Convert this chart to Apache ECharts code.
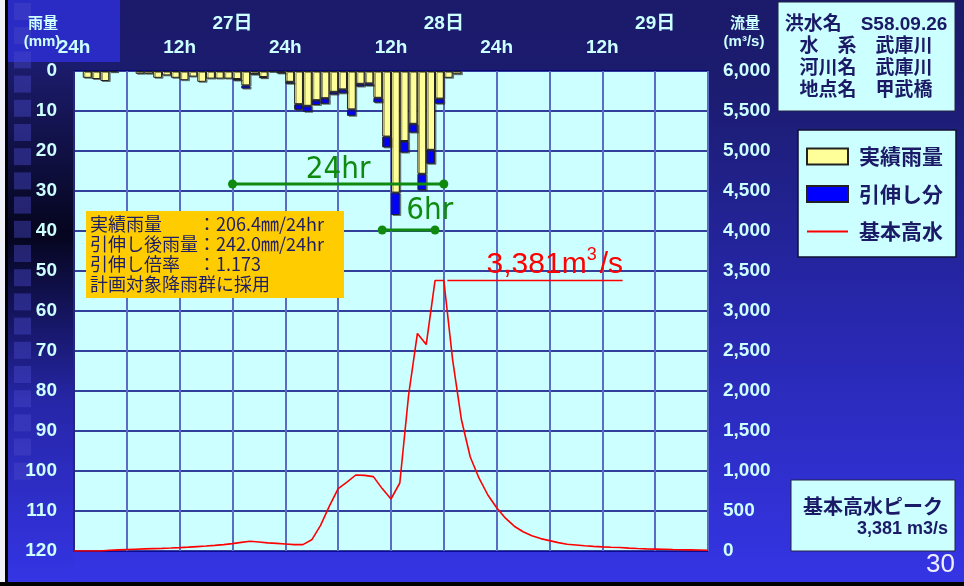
<!DOCTYPE html>
<html><head><meta charset="utf-8">
<script src="https://cdn.jsdelivr.net/npm/echarts@6/dist/echarts.min.js"></script>
<style>html,body{margin:0;padding:0;background:#1c1c6c;}#c{width:964px;height:586px;}</style>
</head><body><div id="c"></div>
<script>
// ---------- data ----------
const hourCategories = Array.from({length: 72}, (_, i) => String(i));
const rainActual = [0,1.7,2.0,2.5,0.3,0,0,0.7,0.7,1.7,1.1,1.7,2.3,1.4,2.7,1.9,1.9,1.9,2.0,3.6,0.7,1.5,0.2,0.4,2.7,8.3,8.7,7.3,6.8,5.2,4.6,9.6,3.2,3.1,6.7,16.4,30.4,17.5,13.2,25.7,19.7,6.9,1.7,0.8,
  0,0,0,0,0,0,0,0,0,0,0,0,0,0,0,0,0,0,0,0,0,0,0,0,0,0,0,0];
const rainStretch = [0,0,0,0,0,0,0,0,0,0,0,0,0,0,0,0,0,0,
  0.4,0.8,0.1,0.3,0,0.1,0.5,1.4,1.5,1.2,1.4,0.7,1.0,1.6,0.7,0.6,1.2,2.7,5.6,2.9,2.2,4.1,3.5,1.3,
  0,0,0,0,0,0,0,0,0,0,0,0,0,0,0,0,0,0,0,0,0,0,0,0,0,0,0,0,0,0];
const flowHours = [0,1,2,3,4,5,6,7,8,9,10,11,12,13,14,15,16,17,18,19,20,21,22,23,24,25,26,27,28,29,30,31,32,33,34,35,36,37,38,39,40,41,42,43,44,45,46,47,48,49,50,51,52,53,54,55,56,57,58,59,60,61,62,63,64,65,66,67,68,69,70,71,72];
const flowValues = [0,0,0,0,10,14,18,22,26,30,
  33,37,42,48,55,62,70,80,92,108,
  122,112,102,95,88,80,80,140,320,560,
  780,860,950,945,930,780,650,850,1950,2720,
  2580,3381,3381,2390,1640,1175,910,700,540,410,
  310,240,190,155,130,105,85,75,65,58,
  52,47,43,36,31,27,24,21,18,16,
  14,12,10];
const hourTickHours = [0,12,24,36,48,60];
const hourTickLabels = ['24h','12h','24h','12h','24h','12h'];
const dayTickHours = [18,42,66];
const dayTickLabels = ['27日','28日','29日'];
const span24Hours = [18,42];
const span24Level = 28.25;
const span6Hours = [35,41];
const span6Level = 39.75;
const peakValue = 3381;
const peakLineHours = [42.4,62.3];
const infoLines = ['洪水名　S58.09.26','水　系　武庫川','河川名　武庫川','地点名　甲武橋'];
const noteLines = ['実績雨量　　：206.4㎜/24hr','引伸し後雨量：242.0㎜/24hr','引伸し倍率　：1.173','計画対象降雨群に採用'];

// ---------- style ----------
const FONT = "'Liberation Sans', 'Noto Sans CJK JP', sans-serif";
const JP = "'Noto Sans CJK JP', sans-serif";
const NARROW = "'Liberation Sans Narrow', 'DejaVu Sans Condensed', sans-serif";
const NAVY = '#1a1a66';
const LIGHT = '#ccffff';
const GREEN = '#0f8a0f';

const chart = echarts.init(document.getElementById('c'), null, {renderer: 'canvas', width: 964, height: 586});
const nz = v => (v ? v : '-');

const squares = [];
for (let k = 0; k < 20; k++) {
  squares.push({type: 'rect', z: -97, silent: true, shape: {x: 14, y: 3 + 24.2 * k, width: 17, height: 17},
    style: {fill: 'rgba(70,70,200,0.45)'}});
}

const barShadow = {shadowColor: 'rgba(40,40,40,0.5)', shadowOffsetX: 1.5, shadowOffsetY: 1, shadowBlur: 0};

const option = {
  animation: false,
  textStyle: {fontFamily: FONT},
  grid: {left: 74, right: 256, top: 71, bottom: 35, show: true, backgroundColor: '#ccffff', borderWidth: 0,
    containLabel: false, outerBoundsMode: 'none'},
  legend: {
    data: [{name: '実績雨量', icon: 'rect'}, {name: '引伸し分', icon: 'rect'}, {name: '基本高水', itemStyle: {opacity: 0}}],
    orient: 'vertical', left: 798, top: 130, padding: [16, 13, 15, 8], itemGap: 16.5,
    itemWidth: 41, itemHeight: 16, backgroundColor: '#ccffff', borderColor: '#111133', borderWidth: 1.5,
    selectedMode: false,
    textStyle: {color: NAVY, fontSize: 21, fontWeight: 'bold', fontFamily: JP, padding: [0, 0, 0, 6]}
  },
  xAxis: [
    {type: 'value', min: 0, max: 72, interval: 6, position: 'top',
      axisLine: {show: false}, axisTick: {show: false},
      splitLine: {show: true, lineStyle: {color: '#5a6cc4', width: 2}},
      axisLabel: {show: true, showMinLabel: true, showMaxLabel: true, margin: 14, color: LIGHT, fontSize: 19,
        fontWeight: 'bold', fontFamily: FONT,
        formatter: v => { const i = hourTickHours.indexOf(v); return i < 0 ? '' : hourTickLabels[i]; }}},
    {type: 'category', data: hourCategories, position: 'top', show: false, boundaryGap: true},
    {type: 'value', min: 0, max: 72, interval: 6, position: 'top', offset: 24,
      axisLine: {show: false}, axisTick: {show: false}, splitLine: {show: false},
      axisLabel: {show: true, showMinLabel: true, showMaxLabel: true, margin: 14, color: LIGHT, fontSize: 19,
        fontWeight: 'bold', fontFamily: FONT,
        formatter: v => { const i = dayTickHours.indexOf(v); return i < 0 ? '' : dayTickLabels[i]; }}}
  ],
  yAxis: [
    {type: 'value', inverse: true, min: 0, max: 120, interval: 10, position: 'left',
      axisLine: {show: true, lineStyle: {color: '#10106a', width: 1.5}}, axisTick: {show: false},
      splitLine: {show: true, lineStyle: {color: '#00007a', width: 1.5}},
      axisLabel: {color: LIGHT, fontSize: 19, fontWeight: 'bold', fontFamily: FONT, margin: 17}},
    {type: 'value', min: 0, max: 6000, interval: 500, position: 'right',
      axisLine: {show: false}, axisTick: {show: false}, splitLine: {show: false},
      axisLabel: {color: LIGHT, fontSize: 19, fontWeight: 'bold', fontFamily: FONT, margin: 15,
        formatter: v => v.toLocaleString('en-US')}}
  ],
  series: [
    {name: '実績雨量', type: 'bar', xAxisIndex: 1, yAxisIndex: 0, stack: 'rain', barWidth: '100%',
      data: rainActual.map(nz),
      itemStyle: Object.assign({color: '#ffff99', borderColor: '#222222', borderWidth: 1}, barShadow), z: 2},
    {name: '引伸し分', type: 'bar', xAxisIndex: 1, yAxisIndex: 0, stack: 'rain', barWidth: '100%',
      data: rainStretch.map(nz),
      itemStyle: Object.assign({color: '#0000ff', borderColor: '#222222', borderWidth: 1}, barShadow), z: 2},
    {name: '基本高水', type: 'line', xAxisIndex: 0, yAxisIndex: 1, symbol: 'none',
      data: flowHours.map((h, i) => [h, flowValues[i]]),
      lineStyle: {color: '#ff0000', width: 1.6}, itemStyle: {color: '#ff0000'}, z: 5},
    {name: 'span24', type: 'line', xAxisIndex: 0, yAxisIndex: 0, symbol: 'circle', symbolSize: 9,
      data: span24Hours.map(h => [h, span24Level]),
      lineStyle: {color: GREEN, width: 3}, itemStyle: {color: GREEN}, z: 6,
      markPoint: {symbol: 'rect', symbolSize: 1, itemStyle: {color: 'transparent'},
        label: {show: true, position: 'inside', formatter: '24hr', color: GREEN, fontSize: 31, fontFamily: NARROW},
        data: [{coord: [30, 24.75]}]}},
    {name: 'span6', type: 'line', xAxisIndex: 0, yAxisIndex: 0, symbol: 'circle', symbolSize: 9,
      data: span6Hours.map(h => [h, span6Level]),
      lineStyle: {color: GREEN, width: 3}, itemStyle: {color: GREEN}, z: 6,
      markPoint: {symbol: 'rect', symbolSize: 1, itemStyle: {color: 'transparent'},
        label: {show: true, position: 'inside', formatter: '6hr', color: GREEN, fontSize: 31, fontFamily: NARROW},
        data: [{coord: [40.4, 35]}]}},
    {name: 'peak', type: 'line', xAxisIndex: 0, yAxisIndex: 1, symbol: 'none',
      data: peakLineHours.map(h => [h, peakValue]),
      lineStyle: {color: '#ff0000', width: 1.6}, z: 6,
      markPoint: {symbol: 'rect', symbolSize: 1, itemStyle: {color: 'transparent'},
        label: {show: true, position: 'inside',
          formatter: '{a|' + peakValue.toLocaleString('en-US') + 'm}{s|3}{b|/s}',
          rich: {a: {color: '#ff0000', fontSize: 30, fontFamily: FONT, lineHeight: 34, verticalAlign: 'bottom'},
                 s: {color: '#ff0000', fontSize: 18, fontFamily: FONT, lineHeight: 34, verticalAlign: 'top'},
                 b: {color: '#ff0000', fontSize: 30, fontFamily: FONT, lineHeight: 34, verticalAlign: 'bottom', padding: [0, 0, 0, 3]}}},
        data: [{coord: [54.6, 3600]}]}}
  ],
  graphic: [
    {type: 'rect', z: -100, silent: true, shape: {x: 0, y: 0, width: 964, height: 586},
      style: {fill: {type: 'linear', x: 0, y: 0, x2: 0, y2: 1, colorStops: [
        {offset: 0, color: '#1b1a6a'}, {offset: 0.15, color: '#1c1c70'}, {offset: 0.5, color: '#2626a8'}, {offset: 1, color: '#3535e6'}]}}},
    {type: 'rect', z: -99, silent: true, shape: {x: 8, y: 62, width: 66, height: 524},
      style: {fill: {type: 'linear', x: 0, y: 0, x2: 0, y2: 1, colorStops: [
        {offset: 0, color: '#1c1c6e'}, {offset: 0.33, color: '#05051e'}, {offset: 0.65, color: '#2626a8'}, {offset: 1, color: '#3535e6'}]}}},
    {type: 'rect', z: -99, silent: true, shape: {x: 8, y: 0, width: 112, height: 62}, style: {fill: '#2a2ac4'}},
    {type: 'rect', z: -98, silent: true, shape: {x: 0, y: 0, width: 5, height: 586}, style: {fill: '#f0f0f8'}},
    {type: 'rect', z: -98, silent: true, shape: {x: 5, y: 0, width: 3, height: 586}, style: {fill: '#000000'}},
    {type: 'rect', z: -98, silent: true, shape: {x: 0, y: 582, width: 964, height: 4}, style: {fill: '#000000'}},
    ...squares,
    {type: 'text', z: 50, x: 43, y: 22, style: {text: '雨量', align: 'center', verticalAlign: 'middle', font: 'bold 15px ' + JP, fill: LIGHT}},
    {type: 'text', z: 50, x: 42, y: 42, style: {text: '(mm)', align: 'center', verticalAlign: 'middle', font: 'bold 15px ' + FONT, fill: LIGHT}},
    {type: 'text', z: 50, x: 745, y: 22, style: {text: '流量', align: 'center', verticalAlign: 'middle', font: 'bold 15px ' + JP, fill: LIGHT}},
    {type: 'text', z: 50, x: 744, y: 42, style: {text: '(m³/s)', align: 'center', verticalAlign: 'middle', font: 'bold 15px ' + FONT, fill: LIGHT}},
    {type: 'rect', z: 50, shape: {x: 778, y: 2, width: 177, height: 109}, style: {fill: '#ccffff', stroke: '#222244', lineWidth: 1}},
    {type: 'text', z: 51, x: 866, y: 14, style: {text: infoLines.join('\n'), align: 'center', verticalAlign: 'top', lineHeight: 22,
      font: 'bold 19px ' + FONT, fill: NAVY}},
    {type: 'rect', z: 50, shape: {x: 86, y: 211, width: 258, height: 87}, style: {fill: '#ffcc00'}},
    {type: 'text', z: 51, x: 90, y: 214, style: {text: noteLines.join('\n'), align: 'left', verticalAlign: 'top', lineHeight: 20,
      font: '18px ' + JP, fill: '#1e1e66'}},
    {type: 'rect', z: 50, shape: {x: 791, y: 480, width: 164, height: 71}, style: {fill: '#ccffff', stroke: '#222244', lineWidth: 1}},
    {type: 'text', z: 51, x: 873, y: 506, style: {text: '基本高水ピーク', align: 'center', verticalAlign: 'middle', font: 'bold 20px ' + JP, fill: NAVY}},
    {type: 'text', z: 51, x: 948, y: 529, style: {text: peakValue.toLocaleString('en-US') + ' m3/s', align: 'right', verticalAlign: 'middle', font: 'bold 18px ' + FONT, fill: NAVY}},
    {type: 'text', z: 51, x: 955, y: 565, style: {text: '30', align: 'right', verticalAlign: 'middle', font: '26px ' + FONT, fill: '#eeeeff'}}
  ]
};
chart.setOption(option);
</script>
</body></html>
